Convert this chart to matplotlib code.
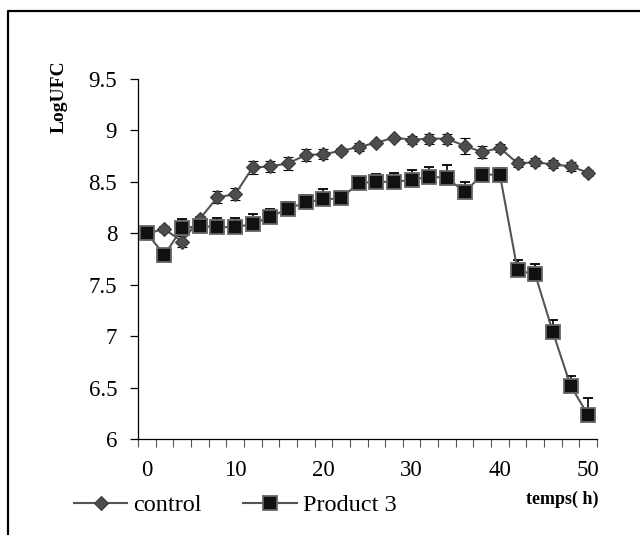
import numpy as np
import matplotlib
matplotlib.use("Agg")
import matplotlib.pyplot as plt
from matplotlib.lines import Line2D
from matplotlib.ticker import MultipleLocator, FuncFormatter

plt.rcParams["font.family"] = ["Liberation Serif", "DejaVu Serif"]

# temps (h)
temps = [0, 2, 4, 6, 8, 10, 12, 14, 16, 18, 20, 22, 24,
         26, 28, 30, 32, 34, 36, 38, 40, 42, 44, 46, 48, 50]

# LogUFC - control
control = [8.00, 8.04, 7.92, 8.14, 8.35, 8.38, 8.64, 8.65, 8.68, 8.76, 8.77, 8.80, 8.84,
           8.88, 8.93, 8.91, 8.92, 8.92, 8.85, 8.79, 8.83, 8.68, 8.69, 8.67, 8.65, 8.59]
control_err = [0.02, 0.03, 0.05, 0.03, 0.06, 0.06, 0.06, 0.05, 0.06, 0.06, 0.05, 0.03, 0.04,
               0.02, 0.02, 0.04, 0.05, 0.05, 0.08, 0.06, 0.04, 0.04, 0.04, 0.04, 0.04, 0.03]

# LogUFC - Product 3
product3 = [8.00, 7.79, 8.05, 8.07, 8.06, 8.06, 8.09, 8.16, 8.24, 8.30, 8.33, 8.34, 8.49,
            8.50, 8.50, 8.52, 8.55, 8.54, 8.40, 8.57, 8.57, 7.64, 7.60, 7.04, 6.52, 6.23]
product3_err = [0.02, 0.03, 0.09, 0.05, 0.09, 0.09, 0.10, 0.08, 0.06, 0.07, 0.10, 0.04, 0.05,
                0.08, 0.09, 0.10, 0.09, 0.12, 0.10, 0.06, 0.06, 0.10, 0.10, 0.12, 0.09, 0.17]

ctrl_style = dict(color="#555555", lw=1.5, marker="D", ms=7.5,
                  mfc="#4d4d4d", mec="#3a3a3a", mew=0.8)
prod_style = dict(color="#555555", lw=1.5, marker="s", ms=9.5,
                  mfc="#111111", mec="#666666", mew=1.3)

fig = plt.figure(figsize=(6.4, 5.35), dpi=100)
ax = fig.add_axes([138 / 640, 1 - 439 / 535, 459 / 640, 360 / 535])

ax.errorbar(temps, control, yerr=control_err, fmt="-", **ctrl_style,
            ecolor="black", elinewidth=1.2, capsize=3.5, capthick=1.5, zorder=2)
zero = np.zeros(len(product3_err))
ax.errorbar(temps, product3, yerr=[zero, product3_err], fmt="-", **prod_style,
            ecolor="black", elinewidth=1.2, capsize=3.5, capthick=1.5, zorder=3)

ax.set_xlim(-1, 51)
ax.set_ylim(6, 9.5)
ax.spines["top"].set_visible(False)
ax.spines["right"].set_visible(False)
ax.spines["left"].set_linewidth(0.9)
ax.spines["bottom"].set_linewidth(0.9)

ax.yaxis.set_major_locator(MultipleLocator(0.5))
ax.yaxis.set_major_formatter(FuncFormatter(lambda v, p: f"{v:g}"))
ax.tick_params(axis="y", direction="out", length=6, width=0.9, pad=9, labelsize=16.5)

ax.set_xticks([0, 10, 20, 30, 40, 50])
ax.set_xticks(np.arange(-1, 52, 2), minor=True)
ax.tick_params(axis="x", which="major", length=0, pad=15, labelsize=16.5)
ax.tick_params(axis="x", which="minor", direction="out", length=6, width=0.8, color="#555555")

fig.text(59 / 640, 1 - 97 / 535, "LogUFC", rotation=90, fontsize=14, fontweight="bold",
         ha="center", va="center")
fig.text(598 / 640, 1 - 499 / 535, "temps( h)", fontsize=13, fontweight="bold",
         ha="right", va="center")

handles = [Line2D([], [], **ctrl_style), Line2D([], [], **prod_style)]
ax.legend(handles, ["control", "Product 3"], loc="center left",
          bbox_to_anchor=(74 / 640, 1 - 505 / 535),
          bbox_transform=fig.transFigure, ncol=2, frameon=False, fontsize=17.5,
          handlelength=2.2, handletextpad=0.25, columnspacing=1.7, borderpad=0,
          borderaxespad=0)

# cadre
fig.add_artist(Line2D([8 / 640, 8 / 640, 1], [0, 1 - 11 / 535, 1 - 11 / 535],
                      transform=fig.transFigure, color="black", lw=1.6))

fig.savefig("out.png", dpi=100)
